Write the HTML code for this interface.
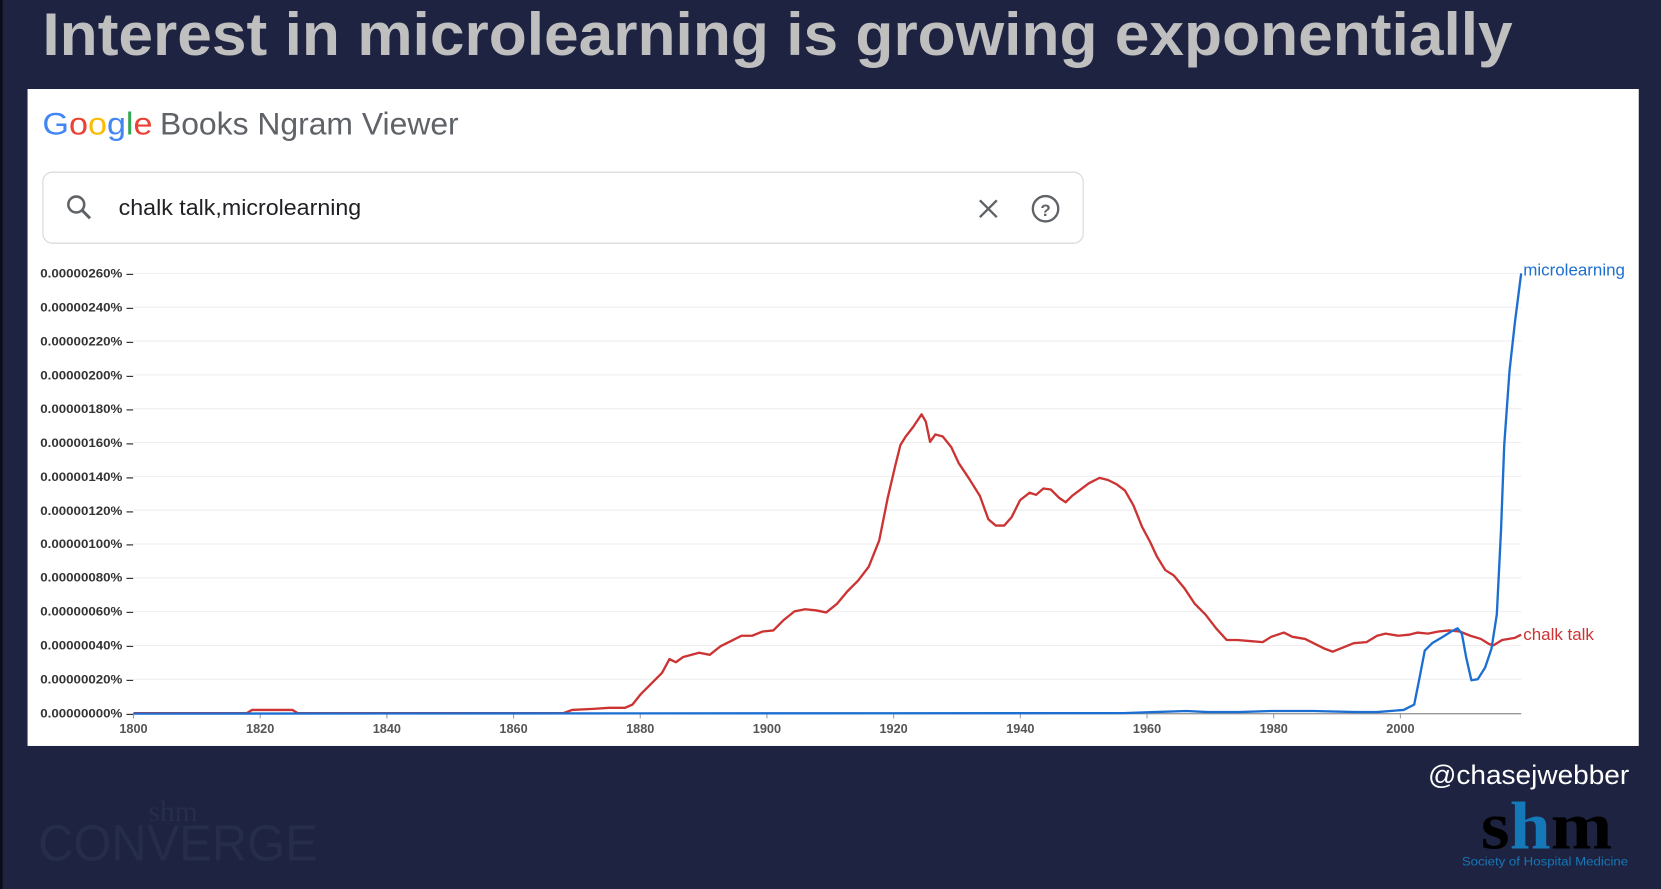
<!DOCTYPE html>
<html><head><meta charset="utf-8"><style>html,body{margin:0;padding:0;background:#1d2340;}svg{display:block}</style></head>
<body>
<svg width="1661" height="889" viewBox="0 0 1568 839" preserveAspectRatio="none" xmlns="http://www.w3.org/2000/svg" font-family="Liberation Sans, sans-serif">
<rect x="0" y="0" width="1568" height="839" fill="#1d2340"/>
<rect x="0" y="0" width="2.5" height="839" fill="#0a0d18"/>
<text x="40" y="52" font-size="57" font-weight="bold" fill="#bfbfbf" textLength="1388" lengthAdjust="spacingAndGlyphs">Interest in microlearning is growing exponentially</text>
<rect x="26" y="84" width="1521" height="620" fill="#fff"/>
<text x="40" y="127" font-size="30" textLength="104" lengthAdjust="spacingAndGlyphs"><tspan fill="#4285f4">G</tspan><tspan fill="#ea4335">o</tspan><tspan fill="#fbbc05">o</tspan><tspan fill="#4285f4">g</tspan><tspan fill="#34a853">l</tspan><tspan fill="#ea4335">e</tspan></text>
<text x="151" y="127" font-size="30" fill="#5f6368" textLength="282" lengthAdjust="spacingAndGlyphs">Books Ngram Viewer</text>
<rect x="40.5" y="162.5" width="982" height="67" rx="9" fill="#fff" stroke="#dadce0" stroke-width="1.2"/>
<circle cx="72" cy="193" r="7.5" fill="none" stroke="#5f6368" stroke-width="2.4"/>
<line x1="77.5" y1="198.5" x2="85" y2="206" stroke="#5f6368" stroke-width="2.8"/>
<text x="112" y="203" font-size="21" fill="#202124" textLength="229" lengthAdjust="spacingAndGlyphs">chalk talk,microlearning</text>
<path d="M925 189 L941 205 M941 189 L925 205" stroke="#5f6368" stroke-width="2.2"/>
<circle cx="987" cy="197" r="12" fill="none" stroke="#5f6368" stroke-width="2.2"/>
<text x="987" y="204" font-size="16" font-weight="bold" fill="#5f6368" text-anchor="middle">?</text>
<g font-size="12" fill="#444" font-weight="bold">
<g stroke="#eeeeee" stroke-width="1">
<line x1="126" x2="1436" y1="641.1" y2="641.1"/><line x1="126" x2="1436" y1="609.2" y2="609.2"/><line x1="126" x2="1436" y1="577.2" y2="577.2"/><line x1="126" x2="1436" y1="545.3" y2="545.3"/><line x1="126" x2="1436" y1="513.4" y2="513.4"/><line x1="126" x2="1436" y1="481.5" y2="481.5"/><line x1="126" x2="1436" y1="449.6" y2="449.6"/><line x1="126" x2="1436" y1="417.6" y2="417.6"/><line x1="126" x2="1436" y1="385.7" y2="385.7"/><line x1="126" x2="1436" y1="353.8" y2="353.8"/><line x1="126" x2="1436" y1="321.9" y2="321.9"/><line x1="126" x2="1436" y1="289.9" y2="289.9"/><line x1="126" x2="1436" y1="258" y2="258"/>
</g>
<g fill="#333" font-size="11.5">
<text x="38" y="677" textLength="88" lengthAdjust="spacingAndGlyphs">0.00000000% –</text><text x="38" y="645" textLength="88" lengthAdjust="spacingAndGlyphs">0.00000020% –</text><text x="38" y="613" textLength="88" lengthAdjust="spacingAndGlyphs">0.00000040% –</text><text x="38" y="581" textLength="88" lengthAdjust="spacingAndGlyphs">0.00000060% –</text><text x="38" y="549" textLength="88" lengthAdjust="spacingAndGlyphs">0.00000080% –</text><text x="38" y="517" textLength="88" lengthAdjust="spacingAndGlyphs">0.00000100% –</text><text x="38" y="486" textLength="88" lengthAdjust="spacingAndGlyphs">0.00000120% –</text><text x="38" y="454" textLength="88" lengthAdjust="spacingAndGlyphs">0.00000140% –</text><text x="38" y="422" textLength="88" lengthAdjust="spacingAndGlyphs">0.00000160% –</text><text x="38" y="390" textLength="88" lengthAdjust="spacingAndGlyphs">0.00000180% –</text><text x="38" y="358" textLength="88" lengthAdjust="spacingAndGlyphs">0.00000200% –</text><text x="38" y="326" textLength="88" lengthAdjust="spacingAndGlyphs">0.00000220% –</text><text x="38" y="294" textLength="88" lengthAdjust="spacingAndGlyphs">0.00000240% –</text><text x="38" y="262" textLength="88" lengthAdjust="spacingAndGlyphs">0.00000260% –</text>
</g>
<line x1="126" x2="1436" y1="673.5" y2="673.5" stroke="#999" stroke-width="1.3"/>
<g stroke="#999"><line x1="126" x2="126" y1="673" y2="678"/><line x1="245.6" x2="245.6" y1="673" y2="678"/><line x1="365.2" x2="365.2" y1="673" y2="678"/><line x1="484.8" x2="484.8" y1="673" y2="678"/><line x1="604.4" x2="604.4" y1="673" y2="678"/><line x1="724" x2="724" y1="673" y2="678"/><line x1="843.6" x2="843.6" y1="673" y2="678"/><line x1="963.2" x2="963.2" y1="673" y2="678"/><line x1="1082.8" x2="1082.8" y1="673" y2="678"/><line x1="1202.4" x2="1202.4" y1="673" y2="678"/><line x1="1322" x2="1322" y1="673" y2="678"/></g>
<g text-anchor="middle" fill="#555"><text x="126" y="692">1800</text><text x="245.6" y="692">1820</text><text x="365.2" y="692">1840</text><text x="484.8" y="692">1860</text><text x="604.4" y="692">1880</text><text x="724" y="692">1900</text><text x="843.6" y="692">1920</text><text x="963.2" y="692">1940</text><text x="1082.8" y="692">1960</text><text x="1202.4" y="692">1980</text><text x="1322" y="692">2000</text></g>
</g>
<polyline fill="none" stroke="#cc3333" stroke-width="2.2" stroke-linejoin="round" points="126,673 233,673 238,670 276,670 281,673 532,673 540,670 560,669 575,668 590,668 597,665 605,655 615,645 625,635 632,622 638,625 645,620 660,616 670,618 680,610 690,605 700,600 710,600 720,596 730,595 740,585 750,577 760,575 770,576 780,578 790,570 800,558 810,548 820,535 830,510 838,470 845,440 850,420 855,412 862,403 870,391 874,398 878,417 883,410 890,412 898,422 905,437 915,452 925,468 933,490 940,496 948,496 955,488 963,472 972,465 978,467 985,461 992,462 1000,470 1006,474 1012,468 1020,462 1028,456 1038,451 1046,453 1054,457 1062,463 1070,477 1078,497 1086,512 1092,525 1100,538 1108,543 1118,555 1128,570 1138,580 1148,593 1158,604 1168,604 1180,605 1192,606 1200,601 1212,597 1220,601 1232,603 1240,607 1250,612 1258,615 1268,611 1278,607 1290,606 1300,600 1308,598 1320,600 1330,599 1338,597 1348,598 1358,596 1368,595 1378,596 1388,600 1398,603 1406,608 1410,609 1418,604 1430,602 1436,599"/>
<polyline fill="none" stroke="#1c6fd0" stroke-width="2.2" stroke-linejoin="round" points="126,673.5 1060,673 1090,672 1120,671 1140,672 1170,672 1200,671 1240,671 1280,672 1300,672 1325,670 1335,665 1340,640 1345,614 1352,607 1362,601 1370,596 1376,593 1380,598 1384,620 1389,642 1395,641 1402,630 1408,612 1413,580 1417,500 1420,420 1425,350 1430,305 1436,258"/>
<text x="1438" y="260" font-size="16" fill="#1c6fd0">microlearning</text>
<text x="1438" y="604" font-size="16" fill="#cc3333">chalk talk</text>
<text x="1348" y="740" font-size="25" fill="#fff" textLength="190" lengthAdjust="spacingAndGlyphs">@chasejwebber</text>
<text x="1398" y="801" font-size="64" font-weight="bold" font-family="Liberation Serif, serif" textLength="124" lengthAdjust="spacingAndGlyphs"><tspan fill="#000">s</tspan><tspan fill="#1578b8">h</tspan><tspan fill="#000">m</tspan></text>
<text x="1380" y="817" font-size="11" fill="#1578b8" textLength="157" lengthAdjust="spacingAndGlyphs">Society of Hospital Medicine</text>
<text x="140" y="775" font-size="28" fill="#262e4c" font-family="Liberation Serif, serif">shm</text>
<text x="36" y="812" font-size="48" fill="#252d4b" textLength="264" lengthAdjust="spacingAndGlyphs">CONVERGE</text>
</svg>
</body></html>
